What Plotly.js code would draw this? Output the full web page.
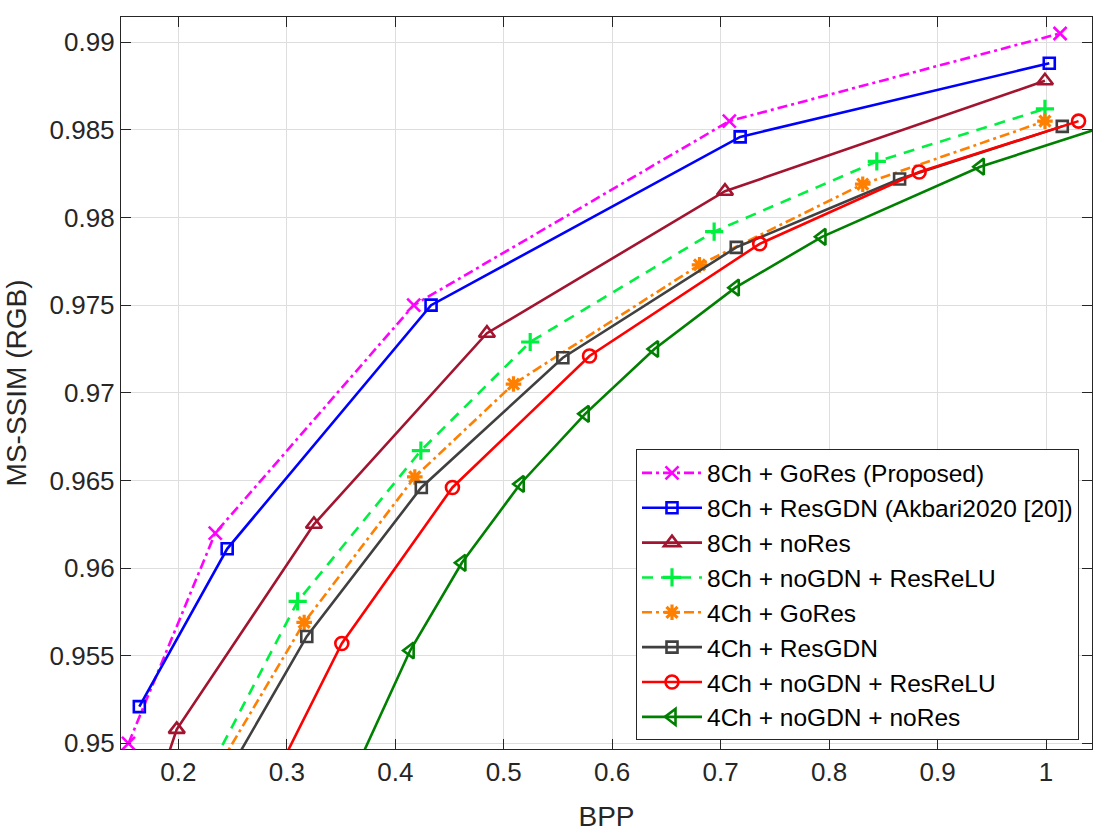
<!DOCTYPE html>
<html>
<head>
<meta charset="utf-8">
<script src="https://cdn.plot.ly/plotly-3.0.1.min.js"></script>
<style>
  html, body { margin: 0; padding: 0; background: #fff; }
  #plot { width: 1120px; height: 840px; }
</style>
</head>
<body>
<div id="plot"></div>
<script>
// series names, in legend order
const names = [
  '8Ch + GoRes (Proposed)',
  '8Ch + ResGDN (Akbari2020 [20])',
  '8Ch + noRes',
  '8Ch + noGDN + ResReLU',
  '4Ch + GoRes',
  '4Ch + ResGDN',
  '4Ch + noGDN + ResReLU',
  '4Ch + noGDN + noRes'
]

// BPP / MS-SSIM (first / last points of some curves sit outside the axes)
const goRes8x = [0.154, 0.234, 0.417, 0.708, 1.013]
const goRes8y = [0.9500, 0.9620, 0.9750, 0.9855, 0.9905]

const resGdn8x = [0.164, 0.245, 0.433, 0.718, 1.003]
const resGdn8y = [0.9521, 0.9611, 0.9750, 0.9846, 0.9888]

const noRes8x = [0.180, 0.1985, 0.325, 0.4845, 0.704, 0.999]
const noRes8y = [0.9474, 0.9508, 0.9625, 0.9734, 0.9815, 0.9878]

const resRelu8x = [0.200, 0.310, 0.4236, 0.5244, 0.694, 0.844, 0.999]
const resRelu8y = [0.9451, 0.9581, 0.9667, 0.9729, 0.9792, 0.9832, 0.9862]

const goRes4x = [0.200, 0.316, 0.418, 0.509, 0.6805, 0.831, 0.999]
const goRes4y = [0.9448, 0.9569, 0.9652, 0.9705, 0.9773, 0.9819, 0.9855]

const resGdn4x = [0.200, 0.3184, 0.424, 0.5545, 0.7144, 0.865, 1.015]
const resGdn4y = [0.9434, 0.9561, 0.9646, 0.9720, 0.9783, 0.9822, 0.9852]

const resRelu4x = [0.250, 0.3507, 0.4527, 0.5791, 0.736, 0.883, 1.030]
const resRelu4y = [0.9433, 0.9557, 0.9646, 0.9721, 0.9785, 0.9826, 0.9855]

const noRes4x = [0.330, 0.4137, 0.4614, 0.5152, 0.5751, 0.639, 0.7135, 0.7934, 0.9394, 1.080]
const noRes4y = [0.9440, 0.9553, 0.9603, 0.9648, 0.9688, 0.9725, 0.9760, 0.9789, 0.9829, 0.9857]

const xTicks = [0.2, 0.3, 0.4, 0.5, 0.6, 0.7, 0.8, 0.9, 1]
const xTickText = ['0.2', '0.3', '0.4', '0.5', '0.6', '0.7', '0.8', '0.9', '1']
const yTicks = [0.95, 0.955, 0.96, 0.965, 0.97, 0.975, 0.98, 0.985, 0.99]
const yTickText = ['0.95', '0.955', '0.96', '0.965', '0.97', '0.975', '0.98', '0.985', '0.99']

const font = 'Liberation Sans, Arial, Helvetica, sans-serif'

// style per series: colour, dash, marker symbol, marker size
const styles = [
  ['#ff00ff', '10px,4px,3px,4px', 'x-thin-open', 13],
  ['#0000ff', 'solid', 'square-open', 11],
  ['#a2142f', 'solid', 'triangle-up-open', 14],
  ['#00f040', '11px,8px', 'cross-thin-open', 13],
  ['#ff8000', '10px,4px,3px,4px', 'asterisk-open', 13],
  ['#404040', 'solid', 'square-open', 11],
  ['#ff0000', 'solid', 'circle-open', 13],
  ['#008000', 'solid', 'triangle-left-open', 14]
]
const xs = [goRes8x, resGdn8x, noRes8x, resRelu8x, goRes4x, resGdn4x, resRelu4x, noRes4x]
const ys = [goRes8y, resGdn8y, noRes8y, resRelu8y, goRes4y, resGdn4y, resRelu4y, noRes4y]

let traces = names.map((n, i) => {
  let [c, d, sym, sz] = styles[i]
  let mw = (sym == 'cross-thin-open' || sym == 'asterisk-open') ? 3.2 : 2.6
  return {
    x: xs[i],
    y: ys[i],
    name: n,
    type: 'scatter',
    mode: 'lines+markers',
    line: {color: c, width: 2.6, dash: d},
    marker: {symbol: sym, size: sz, color: c, line: {color: c, width: mw}},
    cliponaxis: true
  }
})

let axisCommon = {
  showgrid: true,
  gridcolor: '#dedede',
  gridwidth: 1,
  zeroline: false,
  showline: true,
  linecolor: '#262626',
  linewidth: 1.2,
  mirror: 'ticks',
  ticks: 'inside',
  ticklen: 10,
  tickcolor: '#262626',
  tickfont: {family: font, size: 26, color: '#262626'}
}

let layout = {
  width: 1120,
  height: 840,
  margin: {l: 121, r: 28, t: 17, b: 91},
  paper_bgcolor: '#fff',
  plot_bgcolor: '#fff',
  font: {family: font, color: '#262626'},
  showlegend: true,
  xaxis: Object.assign({}, axisCommon, {
    range: [0.1471, 1.0424],
    tickmode: 'array',
    tickvals: xTicks,
    ticktext: xTickText,
    title: {text: 'BPP', font: {family: font, size: 28, color: '#262626'}, standoff: 20}
  }),
  yaxis: Object.assign({}, axisCommon, {
    range: [0.94968, 0.99144],
    tickmode: 'array',
    tickvals: yTicks,
    ticktext: yTickText,
    title: {text: 'MS-SSIM (RGB)', font: {family: font, size: 28, color: '#262626'}, standoff: 14}
  }),
  legend: {
    x: 0.7585,
    y: 0.2104,
    xanchor: 'center',
    yanchor: 'middle',
    bgcolor: '#fff',
    bordercolor: '#262626',
    borderwidth: 1,
    itemwidth: 60,
    tracegroupgap: 0,
    font: {family: font, size: 24.5, color: '#000'}
  }
}

Plotly.newPlot(document.getElementById('plot'), traces, layout, {displayModeBar: false, staticPlot: true})
</script>
</body>
</html>
